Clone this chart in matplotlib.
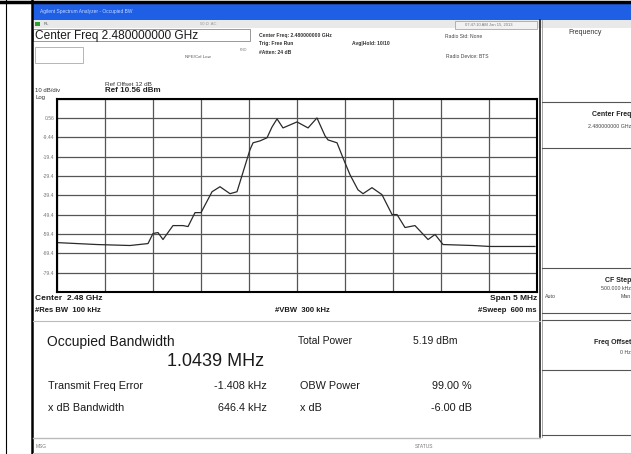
import numpy as np
import matplotlib
matplotlib.use("Agg")
import matplotlib.pyplot as plt
from matplotlib.patches import Rectangle

# ---- data ----
freq_offset_mhz = [-2.5, -2.083, -1.740, -1.552, -1.5, -1.448, -1.396, -1.292, -1.188, -1.135,
                   -1.0625, -1.0, -0.885, -0.802, -0.698, -0.625, -0.490, -0.458, -0.385, -0.3125,
                   -0.260, -0.208, -0.146, 0.0, 0.115, 0.208, 0.292, 0.323, 0.417, 0.479,
                   0.552, 0.635, 0.688, 0.781, 0.885, 0.990, 1.042, 1.125, 1.229, 1.365,
                   1.438, 1.521, 1.833, 2.010, 2.479]
level_dbm = [-63.9, -64.9, -65.4, -64.4, -59.2, -58.7, -62.3, -55.1, -55.1, -55.6,
             -48.4, -48.4, -37.6, -35.0, -38.6, -37.6, -15.9, -12.3, -11.3, -9.7,
             -4.1, 0.05, -4.6, -1.5, -4.6, 0.56, -8.7, -10.8, -12.3, -20.1,
             -28.8, -36.6, -38.6, -35.5, -39.1, -49.4, -49.4, -56.1, -55.1, -62.3,
             -59.7, -64.9, -65.4, -65.9, -65.9]
ref_level = 10.56
db_per_div = 10
span_mhz = 5.0
y_tick_labels = ["0.56", "-9.44", "-19.4", "-29.4", "-39.4", "-49.4", "-59.4", "-69.4", "-79.4"]

W, H = 631, 454
fig = plt.figure(figsize=(W / 100, H / 100), dpi=100)
fig.patch.set_facecolor("white")

bg = fig.add_axes([0, 0, 1, 1])
bg.set_xlim(0, W)
bg.set_ylim(H, 0)
bg.axis("off")

FS = ["Liberation Sans", "DejaVu Sans"]

def T(x, y, s, size=6, weight="normal", ha="left", color="#1a1a1a", va="center"):
    bg.text(x, y, s, fontsize=size, fontweight=weight, ha=ha, va=va, color=color, family=FS)

def R(x, y, w, h, fc="none", ec="none", lw=1.0, z=1):
    bg.add_patch(Rectangle((x, y), w, h, facecolor=fc, edgecolor=ec, lw=lw, zorder=z))

# outer table borders
bg.plot([0, W], [1.5, 1.5], color="black", lw=2.5)
bg.plot([6, 6], [0, H], color="black", lw=0.8)
bg.plot([32, 32], [0, H], color="black", lw=1.8)

# title bar & toolbar
R(33, 3, W - 33, 17, fc="#1f5fe6")
T(40, 11, "Agilent Spectrum Analyzer - Occupied BW", size=3.5, color="#c8d8ff")
R(33, 20, W - 33, 8, fc="#e9e9e9")
R(35, 22, 5, 4, fc="#2aa02a")
T(44, 24, "RL", size=3, color="#555")
T(200, 24, "50 Ω  AC", size=3, color="#999")
R(455, 21, 82, 8, fc="#f2f2f2", ec="#999", lw=0.5)
T(465, 25, "07:47:10 AM Jan 15, 2013", size=3, color="#777")

# top info area
R(33, 29, 217, 12, fc="white", ec="#888", lw=0.6)
T(35, 36, "Center Freq 2.480000000 GHz", size=8.6)
R(35, 47, 48, 16, fc="white", ec="#aaa", lw=0.6)
T(185, 57, "NFE/Cal Low", size=3.2, color="#555")
T(240, 50, "PNO", size=2.5, color="#777")
T(259, 36, "Center Freq: 2.480000000 GHz", size=3.6, weight="bold", color="#333")
T(259, 44, "Trig: Free Run", size=3.6, weight="bold", color="#333")
T(352, 44, "Avg|Hold: 10/10", size=3.6, weight="bold", color="#333")
T(259, 52, "#Atten: 24 dB", size=3.6, weight="bold", color="#333")
T(445, 36, "Radio Std: None", size=3.6, color="#444")
T(446, 57, "Radio Device: BTS", size=3.6, color="#444")

T(105, 84, "Ref Offset 12 dB", size=4.6, color="#333")
T(105, 91, "Ref 10.56 dBm", size=5.8, weight="bold", color="#222")
T(35, 91, "10 dB/div", size=4.3, color="#333")
T(35, 98, "Log", size=4.3, color="#333")

# right softkey panel
bg.plot([540, 540], [20, 437], color="#222", lw=1.2)
bg.plot([542, 542], [20, 437], color="#999", lw=0.6)
T(585, 33, "Frequency", size=5, ha="center", color="#333")
for yy in [102, 148, 268, 313, 320, 370, 435]:
    bg.plot([542, W], [yy, yy], color="#555", lw=0.8)
T(631, 115, "Center Freq", size=5, weight="bold", ha="right", color="#222")
T(631, 126, "2.480000000 GHz", size=3.8, ha="right", color="#444")
T(631, 280, "CF Step", size=5, weight="bold", ha="right", color="#222")
T(631, 289, "500.000 kHz", size=3.8, ha="right", color="#444")
T(545, 297, "Auto", size=3.8, color="#444")
T(631, 297, "Man", size=3.8, ha="right", color="#444")
T(631, 342, "Freq Offset", size=5, weight="bold", ha="right", color="#222")
T(631, 352, "0 Hz", size=3.8, ha="right", color="#444")

# spectrum plot
px0, px1, py0, py1 = 57, 537, 98.6, 292
ax = fig.add_axes([px0 / W, 1 - py1 / H, (px1 - px0) / W, (py1 - py0) / H])
ax.set_facecolor("white")
ax.set_xlim(-span_mhz / 2, span_mhz / 2)
ax.set_ylim(ref_level - 10 * db_per_div, ref_level)
ax.set_xticks(np.linspace(-span_mhz / 2, span_mhz / 2, 11))
yt = [ref_level - db_per_div * i for i in range(11)]
ax.set_yticks(yt)
ax.set_yticklabels([""] + y_tick_labels + [""], fontsize=3.6, color="#777", family=FS)
ax.set_xticklabels([])
ax.tick_params(length=0, pad=2)
ax.grid(True, color="#555555", lw=0.9)
for s in ax.spines.values():
    s.set_color("black")
    s.set_linewidth(1.5)
ax.plot(freq_offset_mhz, level_dbm, color="#2a2a2a", lw=0.9)

# below plot annotations
T(35, 299, "Center  2.48 GHz", size=6, weight="bold")
T(35, 311, "#Res BW  100 kHz", size=5.5, weight="bold")
T(275, 311, "#VBW  300 kHz", size=5.5, weight="bold")
T(537, 299, "Span 5 MHz", size=6, weight="bold", ha="right")
T(537, 311, "#Sweep  600 ms", size=5.5, weight="bold", ha="right")

bg.plot([33, 540], [321, 321], color="#bbbbbb", lw=0.8)

T(47, 342, "Occupied Bandwidth", size=10)
T(167, 361, "1.0439 MHz", size=13)
T(298, 341, "Total Power", size=7.5)
T(413, 341, "5.19 dBm", size=7.5)
T(48, 386, "Transmit Freq Error", size=7.8)
T(267, 386, "-1.408 kHz", size=7.8, ha="right")
T(300, 386, "OBW Power", size=7.8)
T(472, 386, "99.00 %", size=7.8, ha="right")
T(48, 408, "x dB Bandwidth", size=7.8)
T(267, 408, "646.4 kHz", size=7.8, ha="right")
T(300, 408, "x dB", size=7.8)
T(472, 408, "-6.00 dB", size=7.8, ha="right")

# bottom status bar
bg.plot([33, 540], [438, 438], color="#bbbbbb", lw=1.0)
T(36, 446, "MSG", size=3.5, color="#777")
T(415, 446, "STATUS", size=3.5, color="#777")
bg.plot([33, W], [453, 453], color="#ccc", lw=0.8)

fig.savefig("out.png", dpi=100)
